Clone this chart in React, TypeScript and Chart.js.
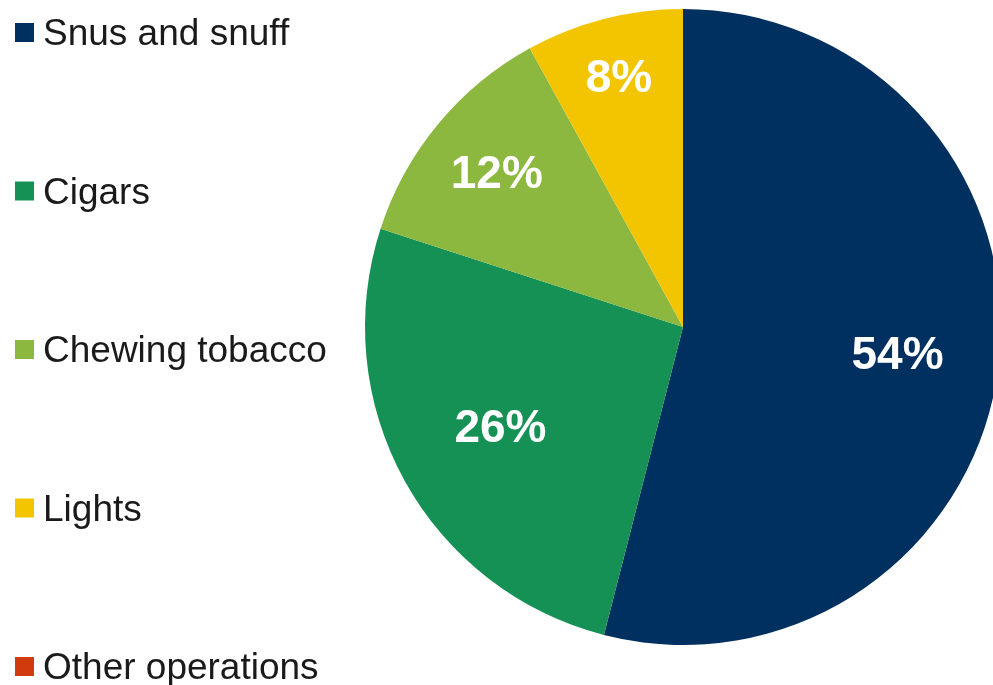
import React, { useEffect, useRef } from "react";
import { Chart, registerables } from "chart.js";

Chart.register(...registerables);

const categories = ["Snus and snuff", "Cigars", "Chewing tobacco", "Lights", "Other operations"];
const shares = [54, 26, 12, 8, 0];
const percentLabels = ["54%", "26%", "12%", "8%", ""];
const colors = ["#00305F", "#159156", "#8DB840", "#F2C500", "#D03A0C"];

// label placement as fraction of radius, per slice (style)
const labelRadiusFactors = [0.68, 0.655, 0.76, 0.81, 0.7];

const FONT = "'Liberation Sans', Arial, Helvetica, sans-serif";

const sideLegend = {
  id: "sideLegend",
  afterDraw(chart: any) {
    const ctx = chart.ctx;
    ctx.save();
    const first = 32.5;
    const step = 158.5;
    categories.forEach((name, i) => {
      const cy = first + i * step;
      ctx.fillStyle = colors[i];
      ctx.fillRect(15, cy - 9.5, 19, 19);
      ctx.fillStyle = "#1a1a1a";
      ctx.font = `37px ${FONT}`;
      ctx.textAlign = "left";
      ctx.textBaseline = "alphabetic";
      ctx.fillText(name, 43, cy + 12.5);
    });
    ctx.restore();
  },
};

const sliceLabels = {
  id: "sliceLabels",
  afterDatasetsDraw(chart: any) {
    const ctx = chart.ctx;
    const meta = chart.getDatasetMeta(0);
    ctx.save();
    ctx.fillStyle = "#ffffff";
    ctx.font = `bold 46px ${FONT}`;
    ctx.textAlign = "center";
    ctx.textBaseline = "middle";
    meta.data.forEach((arc: any, i: number) => {
      const text = percentLabels[i];
      if (!text || shares[i] <= 0) return;
      const { x, y, startAngle, endAngle, outerRadius } = arc.getProps(
        ["x", "y", "startAngle", "endAngle", "outerRadius"],
        true
      );
      const mid = (startAngle + endAngle) / 2;
      const r = outerRadius * labelRadiusFactors[i];
      ctx.fillText(text, x + Math.cos(mid) * r, y + Math.sin(mid) * r + 2);
    });
    ctx.restore();
  },
};

export default function App() {
  const canvasRef = useRef<HTMLCanvasElement | null>(null);

  useEffect(() => {
    if (!canvasRef.current) return;
    const chart = new Chart(canvasRef.current, {
      type: "pie",
      data: {
        labels: categories,
        datasets: [
          {
            data: shares,
            backgroundColor: colors,
            borderWidth: 0,
            hoverOffset: 0,
          },
        ],
      },
      options: {
        responsive: false,
        animation: false,
        devicePixelRatio: 1,
        layout: { padding: { left: 365, right: 9, top: 9, bottom: 40 } },
        plugins: {
          legend: { display: false },
          tooltip: { enabled: false },
          title: { display: false },
        },
      },
      plugins: [sliceLabels, sideLegend],
    });
    return () => chart.destroy();
  }, []);

  return (
    <div
      style={{
        position: "absolute",
        left: 0,
        top: 0,
        width: 993,
        height: 685,
        overflow: "hidden",
        background: "#ffffff",
      }}
    >
      <canvas ref={canvasRef} width={1010} height={685} style={{ display: "block" }} />
    </div>
  );
}
